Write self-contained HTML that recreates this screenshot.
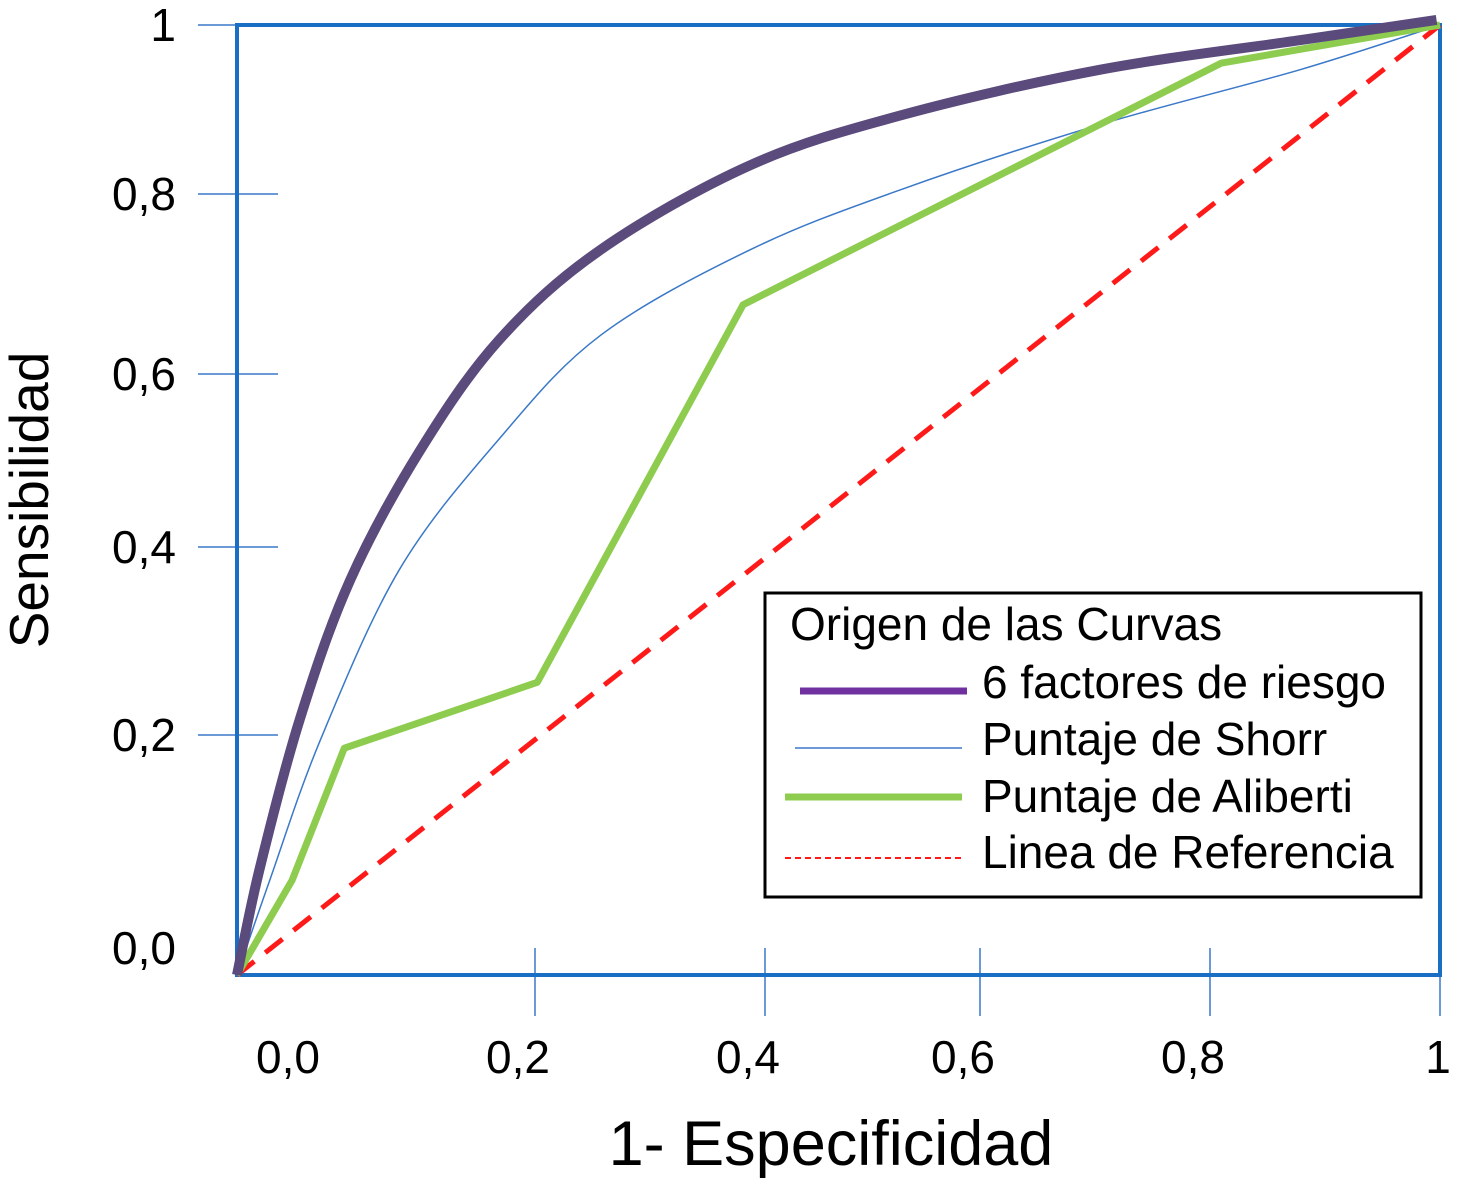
<!DOCTYPE html>
<html><head><meta charset="utf-8"><style>
html,body{margin:0;padding:0;background:#fff;}
svg{display:block;font-family:"Liberation Sans",Arial,sans-serif;}
</style></head><body>
<svg id="chart" width="1458" height="1181" viewBox="0 0 1458 1181">
<g id="grid"></g>
<g id="series"></g>
<g id="labels"></g>
<text x="831" y="1165" font-size="63" text-anchor="middle">1- Especificidad</text>
<text transform="translate(48,500) rotate(-90)" font-size="55" text-anchor="middle">Sensibilidad</text>
<g>
<rect x="765" y="593" width="656" height="304" fill="#fff" stroke="#000" stroke-width="3"/>
<text x="790" y="640" font-size="46">Origen de las Curvas</text>
<g><line x1="800" y1="691" x2="967" y2="691" stroke="#7030a0" stroke-width="7"/><text x="982" y="698" font-size="46">6 factores de riesgo</text></g>
<g><line x1="795" y1="748" x2="962" y2="748" stroke="#3a78c8" stroke-width="1.5"/><text x="982" y="755" font-size="46">Puntaje de Shorr</text></g>
<g><line x1="785" y1="797" x2="962" y2="797" stroke="#8dcc4e" stroke-width="7"/><text x="982" y="812" font-size="46">Puntaje de Aliberti</text></g>
<g><line x1="785" y1="858" x2="962" y2="858" stroke="#ff1a1a" stroke-width="2" stroke-dasharray="6,4"/><text x="982" y="868" font-size="46">Linea de Referencia</text></g>
</g>
</svg>
<script>
const NS="http://www.w3.org/2000/svg";
const xTicks=[0,0.2,0.4,0.6,0.8,1];
const xTickLabels=["0,0","0,2","0,4","0,6","0,8","1"];
const yTicks=[0,0.2,0.4,0.6,0.8,1];
const yTickLabels=["0,0","0,2","0,4","0,6","0,8","1"];
const factoresX=[0,0.015,0.042,0.076,0.123,0.176,0.257,0.387,0.526,0.704,0.878,0.997];
const factoresY=[0,0.0875,0.216,0.365,0.512,0.638,0.738,0.834,0.893,0.947,0.982,1.006];
const shorrX=[0,0.022,0.056,0.109,0.176,0.257,0.387,0.526,0.704,0.878,1];
const shorrY=[0,0.079,0.196,0.376,0.525,0.643,0.738,0.805,0.882,0.947,1];
const alibertiX=[0,0.037,0.072,0.202,0.381,0.81,1];
const alibertiY=[0,0.079,0.189,0.256,0.677,0.955,1];
const refX=[0,1];
const refY=[0,1];
// axis calibration (non-uniform axes in the original figure)
const xKnotPx=[237,535,765,980,1210,1440];
const yKnotPx=[975,735,547,374,194,25];
function pw(v,knots,px){
  let i=Math.min(Math.max(Math.floor(v/0.2),0),knots.length-2);
  return px[i]+(v-knots[i])/(knots[i+1]-knots[i])*(px[i+1]-px[i]);
}
const sx=v=>pw(v,xTicks,xKnotPx);
const sy=v=>pw(v,yTicks,yKnotPx);
function mk(tag,attrs,parent){const e=document.createElementNS(NS,tag);for(const k in attrs)e.setAttribute(k,attrs[k]);parent.appendChild(e);return e;}
const grid=document.getElementById('grid'),series=document.getElementById('series'),labels=document.getElementById('labels');
yTicks.forEach((t,i)=>{
  if(t>0&&t<1){const l=mk('line',{x1:198,x2:278,y1:sy(t),y2:sy(t),stroke:'#3a78c8','stroke-width':1.5},grid);
  
  }
  if(t===1){const l=mk('line',{x1:198,x2:237,y1:sy(t),y2:sy(t),stroke:'#3a78c8','stroke-width':1.5},grid);
  
  }
  const tx=mk('text',{x:176,y:sy(t)+16-(t===0?27:0),'font-size':46,'text-anchor':'end'},labels);
  tx.textContent=yTickLabels[i];
  
  
});
xTicks.forEach((t,i)=>{
  if(t>0){const l=mk('line',{x1:sx(t),x2:sx(t),y1:948,y2:1016,stroke:'#3a78c8','stroke-width':1.5},grid);
  
  }
  const tx=mk('text',{x:sx(t)+(t===0?51:(t===1?-2:-17)),y:1073,'font-size':46,'text-anchor':'middle'},labels);
  tx.textContent=xTickLabels[i];
  
  
});
const frame=mk('rect',{x:237,y:25,width:1203,height:950,fill:'none',stroke:'#1a6fc4','stroke-width':4},grid);


function smooth(xs,ys){
  const p=xs.map((x,i)=>[sx(x),sy(ys[i])]);
  let d=`M${p[0][0]},${p[0][1]}`;
  for(let i=0;i<p.length-1;i++){
    const p0=p[i-1]||p[i],p1=p[i],p2=p[i+1],p3=p[i+2]||p2;
    d+=` C${p1[0]+(p2[0]-p0[0])/6},${p1[1]+(p2[1]-p0[1])/6} ${p2[0]-(p3[0]-p1[0])/6},${p2[1]-(p3[1]-p1[1])/6} ${p2[0]},${p2[1]}`;
  }
  return d;
}
function poly(xs,ys){return xs.map((x,i)=>(i?'L':'M')+sx(x)+','+sy(ys[i])).join(' ');}
const r=mk('path',{d:poly(refX,refY),fill:'none',stroke:'#ff1a1a','stroke-width':5,'stroke-dasharray':'22,14'},series);


const s=mk('path',{d:smooth(shorrX,shorrY),fill:'none',stroke:'#3a78c8','stroke-width':1.5},series);


const a=mk('path',{d:poly(alibertiX,alibertiY),fill:'none',stroke:'#8dcc4e','stroke-width':7,'stroke-linejoin':'round'},series);


const f=mk('path',{d:smooth(factoresX,factoresY),fill:'none',stroke:'#5b4a7c','stroke-width':10},series);


</script>
</body></html>
